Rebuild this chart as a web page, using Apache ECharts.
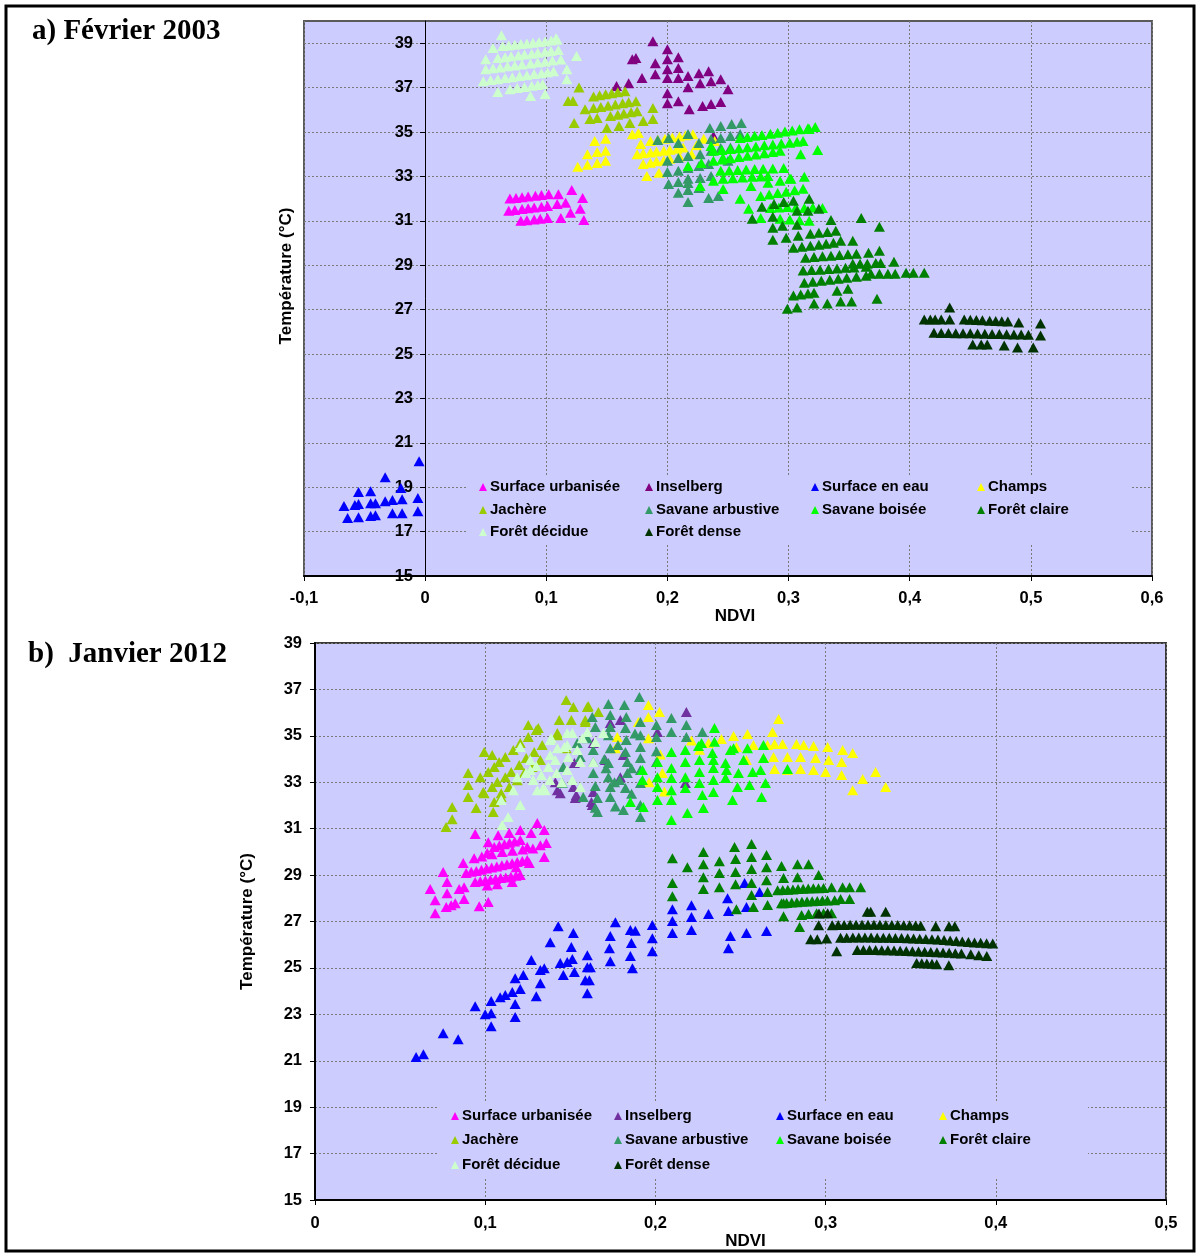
<!DOCTYPE html>
<html>
<head>
<meta charset="utf-8">
<script src="https://cdn.jsdelivr.net/npm/echarts@6/dist/echarts.min.js"></script>
<style>
html,body{margin:0;padding:0;background:#fff;}
#chart{width:1197px;height:1254px;}
</style>
</head>
<body>
<div id="chart"></div>
<script>
// ---------- Labels ----------
const seriesNames = ['Surface urbanisée','Inselberg','Surface en eau','Champs','Jachère','Savane arbustive','Savane boisée','Forêt claire','Forêt décidue','Forêt dense'];
const titleA = 'a) Février 2003';
const titleB = 'b)  Janvier 2012';
const xName = 'NDVI';
const yName = 'Température (°C)';
const yTicks = [15,17,19,21,23,25,27,29,31,33,35,37,39];

// ---------- Panel a) Février 2003 : [NDVI, Température] ----------
const a_urb = [[0.070,32.0],[0.075,32.03],[0.080,32.06],[0.085,32.1],[0.091,32.13],[0.096,32.16],[0.102,32.2],
 [0.069,31.45],[0.074,31.49],[0.080,31.53],[0.085,31.56],[0.090,31.6],[0.096,31.63],[0.101,31.67],
 [0.079,31.0],[0.084,31.03],[0.090,31.06],[0.095,31.09],
 [0.110,32.2],[0.121,32.39],[0.130,32.03],[0.109,31.76],[0.116,31.81],[0.112,31.13],[0.120,31.36],[0.128,31.54],[0.131,31.04],[0.101,31.13]];
const a_ins = [[0.188,39.09],[0.200,38.73],[0.209,38.37],[0.171,38.28],[0.174,38.33],[0.190,38.1],[0.200,38.28],[0.200,37.83],[0.209,37.88],[0.190,37.6],
 [0.179,37.43],[0.200,37.43],[0.209,37.43],[0.217,37.52],[0.226,37.65],[0.234,37.74],[0.227,37.2],[0.236,37.29],[0.244,37.38],[0.250,36.93],
 [0.217,37.02],[0.200,36.75],[0.200,36.3],[0.209,36.39],[0.218,36.03],[0.229,36.17],[0.236,36.26],[0.244,36.35],[0.168,37.2],[0.158,37.07],[0.238,34.82]];
const a_eau = [[-0.005,20.17],[-0.033,19.45],[-0.055,18.78],[-0.045,18.82],[-0.020,18.96],[-0.067,18.15],[-0.058,18.2],[-0.055,18.24],[-0.045,18.28],
 [-0.041,18.28],[-0.033,18.37],[-0.027,18.42],[-0.019,18.46],[-0.006,18.51],[-0.064,17.61],[-0.055,17.65],[-0.045,17.7],[-0.041,17.74],
 [-0.027,17.83],[-0.019,17.83],[-0.006,17.92]];
const a_champs = [[0.140,34.6],[0.149,34.7],[0.134,34.0],[0.142,34.1],[0.149,34.15],[0.126,33.43],[0.134,33.52],[0.142,33.6],[0.149,33.7],
 [0.171,34.9],[0.176,34.95],[0.178,34.46],
 [0.175,34.0],[0.180,34.04],[0.186,34.08],[0.191,34.12],[0.197,34.16],[0.202,34.2],[0.208,34.24],
 [0.186,34.6],[0.192,34.65],[0.198,34.7],[0.204,34.75],[0.210,34.8],[0.215,34.85],[0.221,34.9],
 [0.180,33.56],[0.186,33.62],[0.191,33.68],[0.197,33.73],[0.202,33.79],
 [0.183,33.02],[0.193,33.16],[0.213,34.3],[0.224,34.4],[0.239,34.6],[0.230,34.7],[0.210,33.9],[0.220,34.0]];
const a_jach = [[0.127,37.0],[0.118,36.4],[0.122,36.4],
 [0.139,36.6],[0.144,36.65],[0.149,36.7],[0.154,36.74],[0.159,36.79],[0.165,36.84],
 [0.139,36.08],[0.145,36.13],[0.151,36.18],[0.157,36.24],[0.163,36.29],[0.168,36.34],[0.174,36.39],
 [0.153,35.72],[0.159,35.78],[0.164,35.83],[0.170,35.89],[0.175,35.94],
 [0.136,35.58],[0.142,35.63],[0.132,36.03],[0.123,35.4],[0.150,35.18],[0.160,35.27],[0.169,35.4],[0.180,35.49],[0.188,36.08],[0.188,35.58]];
const a_sarb = [[0.235,35.18],[0.244,35.27],[0.253,35.36],[0.261,35.4],[0.192,34.64],[0.201,34.73],[0.209,34.5],[0.217,34.91],[0.226,34.5],
 [0.236,34.68],[0.244,34.73],[0.252,34.82],[0.260,34.91],[0.200,33.7],[0.209,33.83],[0.217,33.92],[0.227,34.0],[0.236,34.15],[0.244,34.28],
 [0.200,33.2],[0.209,33.25],[0.217,33.38],[0.226,33.47],[0.234,33.56],[0.201,32.66],[0.209,32.75],[0.217,32.89],[0.227,32.93],[0.236,33.02],
 [0.209,32.26],[0.217,32.39],[0.226,32.48],[0.234,32.03],[0.242,32.12],[0.217,31.85],[0.217,32.7],[0.252,34.3],[0.250,33.7]];
const a_sbois = [[0.260,34.73],[0.266,34.78],[0.272,34.83],[0.278,34.87],[0.285,34.92],[0.291,34.97],[0.297,35.02],[0.303,35.07],[0.309,35.12],[0.316,35.17],[0.322,35.22],
 [0.238,34.15],[0.245,34.19],[0.252,34.23],[0.259,34.27],[0.266,34.31],[0.273,34.35],[0.280,34.4],[0.287,34.44],[0.294,34.48],[0.301,34.52],[0.307,34.56],[0.312,34.6],
 [0.238,33.7],[0.245,33.76],[0.252,33.82],[0.259,33.87],[0.266,33.93],[0.273,33.99],[0.280,34.04],[0.287,34.1],[0.293,34.15],
 [0.244,33.25],[0.251,33.27],[0.258,33.29],[0.265,33.31],[0.272,33.33],[0.279,33.35],[0.287,33.36],[0.296,33.38],
 [0.246,32.89],[0.254,32.92],[0.262,32.95],[0.270,32.98],[0.277,33.0],[0.283,33.02],
 [0.310,34.0],[0.324,34.19],[0.313,32.98],[0.302,32.89],[0.269,32.57],[0.260,31.99],[0.267,31.54],[0.277,31.13],
 [0.277,32.12],[0.284,32.18],[0.291,32.25],[0.298,32.31],[0.305,32.38],[0.312,32.44],
 [0.285,31.58],[0.292,31.6],[0.299,31.62],[0.306,31.6],[0.313,31.58],[0.320,31.6],[0.328,31.58],
 [0.293,31.09],[0.301,31.06],[0.309,31.03],[0.317,31.0],
 [0.283,32.71],[0.293,32.8],[0.301,32.9],[0.317,35.13],[0.236,34.37],[0.246,33.83],[0.238,32.8],[0.227,32.57],[0.246,32.43],[0.217,33.47],[0.228,33.6]];
const a_fclaire = [[0.278,31.63],[0.288,31.76],[0.296,31.85],[0.304,31.9],[0.317,31.99],[0.270,31.09],[0.287,31.18],[0.307,31.45],[0.316,31.45],[0.325,31.54],
 [0.335,31.04],[0.360,31.13],[0.375,30.73],[0.287,30.69],[0.295,30.78],[0.307,30.82],[0.287,30.15],[0.298,30.24],[0.308,30.33],
 [0.318,30.42],[0.325,30.46],[0.332,30.5],[0.339,30.55],
 [0.304,29.79],[0.311,29.83],[0.318,29.88],[0.325,29.92],[0.331,29.97],[0.337,30.01],[0.343,30.1],[0.353,30.1],
 [0.314,29.34],[0.321,29.37],[0.328,29.4],[0.335,29.43],[0.342,29.46],[0.349,29.49],[0.356,29.52],[0.366,29.56],
 [0.375,29.65],[0.353,29.07],[0.359,29.07],[0.365,29.07],[0.372,29.1],[0.376,29.1],[0.387,29.16],
 [0.312,28.76],[0.319,28.78],[0.326,28.8],[0.333,28.83],[0.340,28.85],[0.347,28.88],[0.354,28.9],[0.364,28.93],
 [0.368,28.62],[0.375,28.62],[0.382,28.62],[0.388,28.62],[0.397,28.66],[0.403,28.66],[0.412,28.66],
 [0.313,28.21],[0.320,28.25],[0.327,28.3],[0.334,28.34],[0.341,28.39],[0.348,28.43],[0.356,28.48],[0.364,28.53],
 [0.304,27.63],[0.310,27.68],[0.316,27.72],[0.321,27.76],[0.340,27.85],[0.349,27.94],[0.373,27.49],[0.299,27.04],[0.307,27.09],[0.321,27.27],[0.332,27.27],[0.343,27.36],[0.352,27.36]];
const a_fdec = [[0.064,38.87],[0.069,38.9],[0.074,38.93],[0.079,38.96],[0.084,38.99],[0.089,39.02],[0.094,39.05],[0.099,39.08],[0.104,39.12],[0.109,39.16],
 [0.060,38.33],[0.066,38.37],[0.071,38.41],[0.077,38.45],[0.082,38.49],[0.088,38.53],[0.093,38.57],[0.099,38.61],[0.104,38.65],[0.110,38.69],
 [0.050,37.83],[0.056,37.87],[0.062,37.91],[0.068,37.96],[0.074,38.0],[0.080,38.04],[0.087,38.09],[0.093,38.13],[0.099,38.17],[0.105,38.22],[0.112,38.27],
 [0.048,37.29],[0.054,37.34],[0.060,37.38],[0.066,37.43],[0.072,37.47],[0.078,37.52],[0.084,37.56],[0.090,37.61],[0.096,37.65],[0.101,37.69],[0.106,37.74],
 [0.070,36.93],[0.076,36.98],[0.082,37.03],[0.088,37.08],[0.093,37.12],[0.097,37.16],
 [0.063,39.36],[0.050,38.28],[0.056,38.78],[0.125,38.42],[0.117,37.83],[0.117,37.38],[0.060,36.80],[0.087,36.62],[0.099,36.71],[0.108,39.22]];
const a_fdense = [[0.433,27.09],[0.412,26.55],[0.417,26.55],[0.421,26.55],[0.426,26.55],[0.433,26.55],[0.445,26.55],[0.450,26.54],[0.455,26.53],[0.460,26.52],
 [0.466,26.5],[0.471,26.49],[0.476,26.48],[0.481,26.46],[0.490,26.42],[0.508,26.37],
 [0.420,25.96],[0.426,25.95],[0.432,25.95],[0.438,25.94],[0.444,25.93],[0.450,25.93],[0.456,25.92],[0.462,25.91],[0.468,25.9],[0.474,25.9],
 [0.480,25.89],[0.486,25.88],[0.492,25.88],[0.498,25.87],[0.508,25.83],
 [0.452,25.43],[0.459,25.43],[0.464,25.43],[0.478,25.38],[0.489,25.29],[0.502,25.29]];

// ---------- Panel b) Janvier 2012 : [NDVI, Température] ----------
const b_urb = [[0.0677,28.4],[0.0706,27.92],[0.0706,27.36],[0.0753,29.13],[0.0776,28.7],[0.0776,28.22],[0.0771,27.62],[0.080,27.7],[0.0824,27.79],
 [0.0847,28.4],[0.0876,28.48],[0.0876,27.97],[0.0871,29.52],[0.0935,29.73],[0.0941,30.77],[0.0965,27.66],[0.1018,27.84],[0.1018,30.42],[0.1012,29.95],
 [0.0888,29.09],[0.0918,29.14],[0.0948,29.18],[0.0978,29.23],[0.1008,29.28],[0.1038,29.33],[0.1068,29.37],[0.1098,29.42],[0.1128,29.47],[0.1158,29.51],[0.1188,29.56],[0.1218,29.61],[0.1247,29.65],
 [0.0941,28.7],[0.0971,28.73],[0.1001,28.77],[0.1031,28.8],[0.1061,28.83],[0.1091,28.87],[0.1121,28.9],[0.1151,28.93],[0.1181,28.97],[0.1206,29.0],
 [0.1012,28.55],[0.1071,28.6],[0.1159,28.7],
 [0.1053,30.21],[0.1083,30.27],[0.1113,30.33],[0.1143,30.39],[0.1173,30.45],[0.1206,30.51],
 [0.098,29.8],[0.104,29.9],[0.110,30.0],[0.116,30.05],[0.122,30.1],[0.128,30.15],
 [0.1076,30.72],[0.1141,30.81],[0.1206,30.94],[0.127,30.81],[0.1306,31.24],[0.1347,30.94],[0.1247,30.21],[0.1324,30.29],[0.1359,30.38],[0.1347,29.78],[0.1182,29.34],[0.1259,29.52]];
const b_ins = [[0.2182,36.03],[0.2012,35.16],[0.1412,33.0],[0.1441,32.53],[0.1529,32.32],[0.1629,32.02],[0.1635,32.58],[0.1518,32.79],[0.1794,35.68],
 [0.1735,35.55],[0.1794,33.22],[0.2176,32.97],[0.1812,34.17],[0.1635,34.69],[0.1706,33.96],[0.1424,32.66],[0.1535,32.45],[0.1524,33.83],[0.1624,32.15]];
const b_eau = [[0.0594,21.16],[0.0637,21.28],[0.0753,22.19],[0.0841,21.93],[0.0941,23.35],[0.100,23.0],[0.1035,23.05],[0.1035,22.49],[0.1035,23.57],
 [0.1088,23.74],[0.1118,23.83],[0.1159,23.96],[0.1176,24.56],[0.1176,23.44],[0.1176,22.88],[0.1206,24.09],[0.1224,24.69],[0.1271,25.34],[0.130,23.78],
 [0.1324,24.34],[0.1324,24.91],[0.1347,24.99],[0.1382,26.11],[0.1429,26.8],[0.1441,25.21],[0.1459,24.69],[0.1482,25.25],[0.1506,25.9],[0.1512,25.38],
 [0.1518,26.5],[0.1524,24.82],[0.160,25.55],[0.160,25.03],[0.1588,24.47],[0.160,23.91],[0.1612,24.47],[0.1618,25.03],[0.1735,26.37],[0.173,25.85],
 [0.1735,25.29],[0.1765,26.97],[0.1853,26.63],[0.1859,26.07],[0.1853,25.51],[0.1865,24.99],[0.1882,26.6],[0.1982,26.85],[0.1982,26.28],[0.1982,25.72],
 [0.21,27.53],[0.21,27.02],[0.21,26.5],[0.2212,27.7],[0.2212,27.19],[0.2212,26.63],[0.2312,27.32],[0.2424,28.0],[0.2429,27.45],[0.2441,26.37],
 [0.2429,25.85],[0.2535,27.62],[0.2535,26.5],[0.2653,26.59],[0.2524,28.66],[0.2612,28.27]];
const b_champs = [[0.1959,36.33],[0.2024,36.03],[0.1959,35.81],[0.1900,35.6],[0.1776,34.95],[0.1765,34.47],[0.1959,34.9],[0.2029,34.2],
 [0.2724,35.72],[0.2688,35.16],[0.2541,35.08],[0.2459,34.99],[0.2388,34.86],[0.2312,34.69],
 [0.2476,34.52],[0.2576,34.6],[0.2659,34.6],[0.27,34.65],[0.2747,34.65],[0.2829,34.65],[0.2871,34.6],[0.2929,34.56],[0.3012,34.52],
 [0.31,34.39],[0.3159,34.26],
 [0.2535,33.96],[0.2635,34.04],[0.2694,34.09],[0.2776,34.09],[0.2853,34.09],[0.2941,34.04],[0.3018,33.96],[0.3094,33.87],
 [0.27,33.57],[0.2776,33.53],[0.2853,33.57],[0.2929,33.53],[0.3,33.44],[0.3094,33.31],
 [0.3218,33.14],[0.3294,33.44],[0.3159,32.66],[0.3353,32.79],
 [0.2041,33.4],[0.1963,33.0],[0.2053,32.6],[0.2212,34.8],[0.2259,34.4]];
const b_jach = [[0.077,31.07],[0.0806,31.41],[0.0806,31.93],[0.090,33.4],[0.090,32.88],[0.090,32.36],[0.0947,31.89],[0.0988,32.58],[0.0994,34.3],
 [0.1041,34.17],[0.1047,31.72],[0.1094,32.36],
 [0.0971,33.22],[0.1018,33.44],[0.1053,33.66],[0.1082,33.87],[0.1118,34.09],[0.1165,34.39],[0.1206,34.69],[0.1253,34.95],[0.13,35.25],
 [0.0994,32.53],[0.1041,32.79],[0.1071,33.01],[0.1118,33.22],[0.1153,33.44],[0.12,33.74],[0.1241,34.04],[0.1288,34.3],[0.1335,34.6],
 [0.1053,32.15],[0.1094,32.53],[0.1141,32.79],[0.1188,33.09],[0.1229,33.4],[0.1276,33.66],[0.1324,33.96],
 [0.1253,35.47],[0.1312,35.34],[0.1476,36.54],[0.1518,36.24],[0.1435,35.68],[0.1506,35.68],[0.16,36.24],[0.1588,35.68],[0.1424,35.03],[0.1476,34.47],
 [0.1606,36.28],[0.1665,36.03],[0.1588,35.6],[0.1424,35.12]];
const b_sarb = [[0.1724,36.37],[0.1818,36.33],[0.1906,36.67],[0.1629,35.81],[0.1735,35.9],[0.1829,35.81],[0.1647,35.38],[0.1735,35.38],[0.1824,35.34],
 [0.1912,35.6],[0.2006,35.47],[0.2094,35.77],[0.2182,35.47],[0.2276,35.16],[0.16,34.9],[0.1724,35.03],[0.1829,34.82],[0.1912,35.03],[0.2006,34.95],
 [0.2094,35.16],[0.2182,34.95],[0.1635,34.39],[0.1735,34.47],[0.1824,34.3],[0.1912,34.52],[0.2006,34.34],[0.1541,34.69],[0.1559,34.09],[0.1635,33.87],
 [0.1724,33.83],[0.1835,33.87],[0.1912,34.04],[0.2006,33.87],[0.1459,33.66],[0.1635,33.4],[0.1724,33.22],[0.1835,33.4],[0.1912,33.53],[0.1576,32.36],
 [0.1647,32.84],[0.1735,32.79],[0.1824,32.75],[0.1912,32.97],[0.1659,32.32],[0.1735,32.36],[0.1659,31.72],[0.1812,31.8],[0.1912,32.02],[0.1912,31.5],
 [0.1453,32.97],[0.1647,31.9],[0.1765,31.95],[0.1700,34.0],[0.1710,33.6],[0.1760,33.0],[0.1780,34.6],[0.1790,33.1],[0.1860,33.6],[0.1880,35.1],[0.1860,32.5]];
const b_sbois = [[0.2347,35.34],[0.2271,34.69],[0.2335,34.26],[0.2347,34.75],[0.2176,34.39],[0.2094,34.3],[0.2012,33.87],[0.2094,33.61],[0.2176,33.87],
 [0.2259,33.96],[0.2341,33.96],[0.2412,33.83],[0.2518,33.96],[0.2635,34.04],[0.2635,34.6],[0.2541,34.47],[0.2441,34.39],[0.1924,33.53],[0.2012,33.22],
 [0.2094,33.18],[0.2176,33.22],[0.2259,33.44],[0.2341,33.61],[0.2418,33.53],[0.2488,33.4],[0.2571,33.44],[0.2618,33.53],[0.2776,33.57],[0.1924,33.1],
 [0.2012,32.79],[0.2094,32.66],[0.2176,32.75],[0.2259,32.97],[0.2341,33.1],[0.2412,33.18],[0.2482,32.79],[0.2553,32.88],[0.2647,32.97],[0.1853,32.15],
 [0.1929,31.93],[0.2012,32.23],[0.2094,32.23],[0.2188,31.67],[0.2282,31.89],[0.2276,32.45],[0.2341,32.58],[0.2453,32.23],[0.2624,32.36],[0.2094,31.37],
 [0.2253,34.56],[0.2459,34.47]];
const b_fclaire = [[0.21,29.73],[0.21,28.66],[0.21,28.09],[0.2188,29.34],[0.2282,29.99],[0.2282,29.47],[0.2282,28.91],[0.2282,28.4],[0.2376,29.6],
 [0.2376,29.09],[0.2376,28.48],[0.2465,30.21],[0.2471,29.69],[0.2471,29.13],[0.2471,28.61],[0.2476,27.53],[0.2565,30.34],[0.2565,29.78],[0.2565,29.26],
 [0.2565,28.66],[0.2565,28.14],[0.2576,27.62],[0.2653,29.86],[0.2653,29.34],[0.2653,28.78],[0.2659,28.27],[0.2659,27.71],[0.2741,29.39],[0.2753,28.87],
 [0.2753,27.79],[0.2835,29.47],[0.2835,28.91],[0.29,29.47],[0.2959,29.0],
 [0.2718,28.35],[0.2748,28.36],[0.2778,28.37],[0.2808,28.38],[0.2838,28.4],[0.2868,28.41],[0.2898,28.42],[0.2928,28.43],[0.2958,28.43],[0.2988,28.44],
 [0.2741,27.79],[0.2771,27.8],[0.2801,27.82],[0.2831,27.83],[0.2861,27.85],[0.2891,27.86],[0.2921,27.87],[0.2951,27.88],[0.2981,27.9],[0.3011,27.91],[0.3053,27.92],
 [0.3035,28.48],[0.31,28.48],[0.3141,28.48],[0.3206,28.48],[0.3088,27.97],[0.3141,27.97],[0.2753,27.23],[0.2859,27.28],[0.29,27.32],[0.2947,27.36],
 [0.2988,27.36],[0.3035,27.36],[0.2847,26.76]];
const b_fdec = [[0.1188,33.22],[0.1165,32.66],[0.1135,31.5],[0.110,31.16],[0.1265,33.96],[0.1282,33.1],[0.1306,32.66],[0.1353,32.66],[0.1382,34.82],
 [0.1382,34.17],[0.1371,33.66],[0.1412,33.96],[0.1424,34.47],[0.1482,35.12],[0.1482,34.6],[0.1488,34.09],[0.1482,33.53],[0.1512,33.1],[0.1541,34.39],
 [0.1559,33.87],[0.1571,34.9],[0.16,35.16],[0.1635,33.87],[0.1647,34.73],[0.1694,35.12],[0.1559,32.79],[0.1206,34.52],[0.1265,33.53],[0.1094,32.23],
 [0.1206,32.02],[0.1341,32.75],[0.1388,34.9],[0.1465,34.52],[0.1512,35.12],[0.124,33.4],[0.130,33.7],[0.133,33.3],[0.138,33.1],[0.142,33.4],[0.145,33.0]];
const b_fdense = [[0.3245,27.42],[0.3265,27.42],[0.3353,27.42],[0.2961,27.35],[0.3012,27.36],[0.2959,26.84],[0.2912,26.23],[0.2951,26.23],[0.3006,26.27],[0.3065,25.72],
 [0.3039,26.84],[0.3074,26.85],[0.3109,26.85],[0.3144,26.86],[0.3179,26.86],[0.3214,26.86],[0.3249,26.86],[0.3284,26.86],[0.3319,26.86],[0.3354,26.85],
 [0.3389,26.85],[0.3424,26.85],[0.3459,26.84],[0.3494,26.84],[0.3529,26.83],[0.3559,26.82],[0.3647,26.8],[0.3725,26.8],[0.3759,26.8],
 [0.3088,26.3],[0.3124,26.3],[0.316,26.31],[0.3195,26.31],[0.3231,26.31],[0.3267,26.31],[0.3303,26.3],[0.3339,26.3],[0.3374,26.3],[0.341,26.29],
 [0.3446,26.29],[0.3482,26.28],[0.3517,26.27],[0.3553,26.26],[0.3589,26.25],[0.3625,26.23],[0.366,26.22],[0.3696,26.2],[0.3732,26.18],[0.3768,26.16],
 [0.3803,26.14],[0.3839,26.12],[0.3875,26.1],[0.3911,26.08],[0.3946,26.06],[0.3982,26.05],
 [0.3186,25.77],[0.3222,25.77],[0.3258,25.77],[0.3294,25.77],[0.333,25.76],[0.3366,25.76],[0.3402,25.75],[0.3438,25.74],[0.3474,25.73],[0.351,25.72],
 [0.3546,25.71],[0.3582,25.7],[0.3618,25.69],[0.3654,25.68],[0.369,25.66],[0.3726,25.65],[0.3762,25.63],[0.3798,25.62],[0.3853,25.59],[0.39,25.55],[0.3947,25.51],
 [0.3535,25.21],[0.3565,25.2],[0.3595,25.19],[0.3625,25.18],[0.3653,25.16],[0.3724,25.12]];

// ---------- Styling ----------
const colorsA = ['#FF00FF','#800080','#0000FF','#FFFF00','#99CC00','#339966','#00FF00','#008000','#CCFFCC','#003300'];
const colorsB = ['#FF00FF','#7030A0','#0000FF','#FFFF00','#99CC00','#339966','#00FF00','#008000','#CCFFCC','#003300'];
const dataA = [a_urb,a_ins,a_eau,a_champs,a_jach,a_sarb,a_sbois,a_fclaire,a_fdec,a_fdense];
const dataB = [b_urb,b_ins,b_eau,b_champs,b_jach,b_sarb,b_sbois,b_fclaire,b_fdec,b_fdense];

const SANS = '"Liberation Sans", Arial, Helvetica, sans-serif';
const SERIF = '"Liberation Serif", "Times New Roman", serif';
const PLOT_BG = '#CCCCFF';
const labelStyle = {fontFamily: SANS, fontWeight: 'bold', fontSize: 16.5, color: '#000'};
const nameStyle = {fontFamily: SANS, fontWeight: 'bold', fontSize: 17, color: '#000'};
const gridLine = {show: true, lineStyle: {color: '#7a7a7a', width: 1, type: [2, 2]}};
const fmtX = v => { const r = Math.round(v * 10) / 10; return r === 0 ? '0' : String(r).replace('.', ','); };
const MARK = [11, 10];

const series = [];
seriesNames.forEach((n, i) => {
  series.push({type: 'scatter', name: n, xAxisIndex: 0, yAxisIndex: 0, data: dataA[i],
    symbol: 'triangle', symbolSize: MARK, itemStyle: {color: colorsA[i], opacity: 1},
    emphasis: {disabled: true}, silent: true, z: 2 + i * 0.01});
});
seriesNames.forEach((n, i) => {
  series.push({type: 'scatter', name: n, xAxisIndex: 1, yAxisIndex: 1, data: dataB[i],
    symbol: 'triangle', symbolSize: MARK, itemStyle: {color: colorsB[i], opacity: 1},
    emphasis: {disabled: true}, silent: true, z: 2 + i * 0.01});
});

// legends: one item each, laid out as in the reference (4 columns x 3 rows)
function buildLegends(colX, rowY, colors) {
  const out = [];
  seriesNames.forEach((n, i) => {
    const c = i % 4, r = Math.floor(i / 4);
    out.push({
      data: [{name: n, icon: 'triangle', itemStyle: {color: colors[i]}}],
      left: colX[c] - 4, top: rowY[r] - 9,
      itemWidth: 8, itemHeight: 8, itemGap: 0, padding: 0,
      selectedMode: false,
      textStyle: {fontFamily: SANS, fontWeight: 'bold', fontSize: 15, color: '#000', lineHeight: 18, padding: [0, 0, 0, -2]}
    });
  });
  return out;
}
const legends = buildLegends([483, 649, 815, 981], [487, 510, 532], colorsA)
  .concat(buildLegends([455, 618, 780, 943], [1116, 1140, 1165], colorsB));

const option = {
  animation: false,
  backgroundColor: '#fff',
  grid: [
    {left: 304, top: 21, width: 848, height: 555, show: true, backgroundColor: PLOT_BG, borderColor: '#5a5a5a', borderWidth: 2},
    {left: 315, top: 643, width: 851, height: 557, show: true, backgroundColor: PLOT_BG, borderColor: '#3a3a3a', borderWidth: 2}
  ],
  xAxis: [
    {type: 'value', gridIndex: 0, min: -0.1, max: 0.6, interval: 0.1,
     name: xName, nameLocation: 'middle', nameGap: 30,
     nameTextStyle: Object.assign({padding: [0, 0, 0, 14]}, nameStyle),
     axisLine: {show: true, onZero: false, lineStyle: {color: '#000', width: 2}},
     axisTick: {show: true, inside: false, length: 5, lineStyle: {color: '#000', width: 1}},
     axisLabel: Object.assign({margin: 14, formatter: fmtX}, labelStyle),
     splitLine: gridLine},
    {type: 'value', gridIndex: 1, min: 0, max: 0.5, interval: 0.1,
     name: xName, nameLocation: 'middle', nameGap: 33,
     nameTextStyle: Object.assign({padding: [0, 0, 0, 10]}, nameStyle),
     axisLine: {show: true, onZero: false, lineStyle: {color: '#000', width: 2}},
     axisTick: {show: true, length: 5, lineStyle: {color: '#000', width: 1}},
     axisLabel: Object.assign({margin: 15, formatter: fmtX}, labelStyle),
     splitLine: gridLine}
  ],
  yAxis: [
    // vertical axis of panel a crosses the NDVI axis at 0 (121 px right of the plot's left edge)
    {type: 'value', gridIndex: 0, min: 15, max: 40, offset: -121,
     axisLine: {show: true, onZero: false, lineStyle: {color: '#000', width: 1}},
     axisTick: {show: true, length: 5, customValues: yTicks, lineStyle: {color: '#000', width: 1}},
     axisLabel: Object.assign({margin: 12, customValues: yTicks}, labelStyle),
     splitLine: gridLine},
    {type: 'value', gridIndex: 1, min: 15, max: 39,
     name: yName, nameLocation: 'middle', nameGap: 59,
     nameTextStyle: nameStyle,
     axisLine: {show: true, onZero: false, lineStyle: {color: '#000', width: 2}},
     axisTick: {show: true, length: 5, customValues: yTicks, lineStyle: {color: '#000', width: 1}},
     axisLabel: Object.assign({margin: 13, customValues: yTicks}, labelStyle),
     splitLine: gridLine}
  ],
  legend: legends,
  graphic: [
    // legend background boxes (hide the grid lines, as in the reference)
    {type: 'rect', z: 1, silent: true, shape: {x: 467, y: 475, width: 663, height: 68}, style: {fill: PLOT_BG}},
    {type: 'rect', z: 1, silent: true, shape: {x: 437, y: 1103, width: 651, height: 75}, style: {fill: PLOT_BG}},
    // outer frame
    {type: 'rect', z: 10, silent: true, shape: {x: 6, y: 6, width: 1188, height: 1245}, style: {fill: 'none', stroke: '#000', lineWidth: 3}},
    // panel titles
    {type: 'text', z: 10, silent: true, x: 32, y: 32, style: {text: titleA, font: 'bold 29px ' + SERIF, fill: '#000', textVerticalAlign: 'middle'}},
    {type: 'text', z: 10, silent: true, x: 28, y: 655, style: {text: titleB, font: 'bold 29px ' + SERIF, fill: '#000', textVerticalAlign: 'middle'}},
    // y-axis title of panel a
    {type: 'text', z: 10, silent: true, x: 286, y: 276, rotation: Math.PI / 2,
     style: {text: yName, font: 'bold 17px ' + SANS, fill: '#000', textAlign: 'center', textVerticalAlign: 'middle'}}
  ],
  series: series
};

const chart = echarts.init(document.getElementById('chart'), null, {renderer: 'canvas'});
chart.setOption(option);
</script>
</body>
</html>
